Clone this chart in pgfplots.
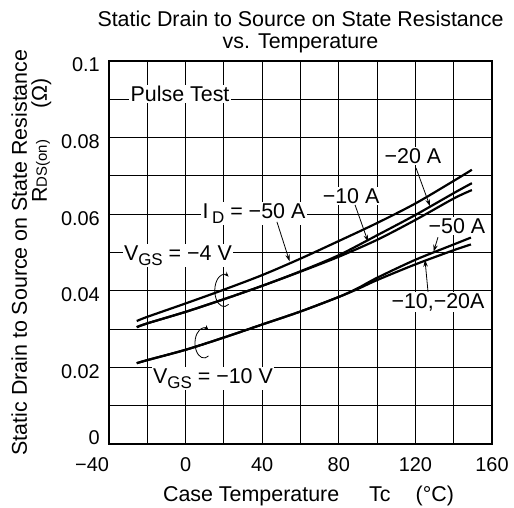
\documentclass[border=0pt]{standalone}
\usepackage{fontspec}
\setmainfont{Liberation Sans}
\usepackage{pgfplots}
\pgfplotsset{compat=1.18}
\usetikzlibrary{arrows.meta}
\newcommand{\sub}[1]{\raisebox{-5bp}{\fontsize{17}{20}\selectfont #1}}
\begin{document}
\begin{tikzpicture}[font=\fontsize{21.5}{24}\selectfont, >={Stealth[length=7bp,width=4.5bp]},
  curve/.style={black, line width=2.2bp, smooth, mark=none}]
\begin{axis}[name=ax, scale only axis, width=383bp, height=383bp,
 xmin=-40, xmax=160, ymin=0, ymax=0.1,
 xtick={-40,0,40,80,120,160}, xticklabels={\makebox[0pt][r]{−40},0,40,80,120,160},
 minor xtick={-20,20,60,100,140},
 ytick={0,0.02,0.04,0.06,0.08,0.1}, yticklabels={\raisebox{4bp}[0pt][0pt]{0},0.02,0.04,0.06,0.08,0.1},
 minor ytick={0.01,0.03,0.05,0.07,0.09},
 scaled y ticks=false, scaled x ticks=false,
 grid=both, major grid style={black, line width=0.9bp}, minor grid style={black, line width=0.9bp},
 major tick length=0pt, minor tick length=0pt,
 axis line style={black, line width=1.2bp},
 tick label style={font=\fontsize{20}{24}\selectfont},
 xticklabel style={anchor=base, inner sep=0pt, yshift=-27bp},
 yticklabel style={anchor=east, inner sep=0pt, xshift=-9bp, yshift=-4bp},
 clip=false,
]
% VGS = -4 V, ID = -50 A
\addplot[curve] coordinates {(-25.5,0.0321) (-20,0.0332) (0,0.0367) (20,0.0403) (40,0.0441) (60,0.0484) (80,0.0530) (100,0.0577) (120,0.0628) (140,0.0687) (149.5,0.0716)};
% VGS = -4 V, ID = -20 A
\addplot[curve] coordinates {(-25.5,0.0305) (-20,0.0315) (0,0.0345) (20,0.0378) (40,0.0413) (60,0.0451) (80,0.0493) (100,0.0545) (120,0.0598) (140,0.0655) (149.5,0.0681)};
% VGS = -4 V, ID = -10 A
\addplot[curve] coordinates {(-25.5,0.0305) (-20,0.0315) (0,0.0345) (20,0.0378) (40,0.0413) (60,0.0450) (80,0.0489) (100,0.0533) (120,0.0585) (140,0.0641) (149.5,0.0663)};
% VGS = -10 V, ID = -50 A
\addplot[curve] coordinates {(-25.5,0.0211) (-20,0.0219) (0,0.0246) (20,0.0278) (40,0.0312) (60,0.0346) (80,0.0384) (90,0.0407) (100,0.0434) (120,0.0481) (140,0.0521) (149,0.0539)};
% VGS = -10 V, ID = -10, -20 A
\addplot[curve] coordinates {(-25.5,0.0211) (-20,0.0219) (0,0.0246) (20,0.0278) (40,0.0312) (60,0.0346) (80,0.0384) (90,0.0405) (100,0.0428) (120,0.0469) (140,0.0506) (149,0.0521)};

\node[fill=white, inner sep=1.5bp] at (axis cs:-2.9,0.0914) {Pulse Test};
\node[fill=white, inner sep=1.5bp] at (axis cs:35.7,0.0603) {I\,\sub{D} = −50 A};
\node[fill=white, inner sep=1.5bp] at (axis cs:-4.0,0.0491) {V\sub{GS} = −4 V};
\node[fill=white, inner sep=1.5bp] at (axis cs:14.3,0.0172) {V\sub{GS} = −10 V};
\node[fill=white, inner sep=1.5bp] at (axis cs:118.7,0.0752) {−20 A};
\node[fill=white, inner sep=1.5bp] at (axis cs:86.4,0.0648) {−10 A};
\node[fill=white, inner sep=1.5bp] at (axis cs:141.7,0.0569) {−50 A};
\node[fill=white, inner sep=1.5bp] at (axis cs:131.8,0.0371) {−10,−20A};

\draw[->, line width=0.8bp] (axis cs:47.7,0.0580) -- (axis cs:54.3,0.0477);
\draw[->, line width=0.8bp] (axis cs:88.5,0.0624) -- (axis cs:95.3,0.0528);
\draw[->, line width=0.8bp] (axis cs:120.3,0.0721) -- (axis cs:127.6,0.0621);
\draw[->, line width=0.8bp] (axis cs:131.8,0.0540) -- (axis cs:129.5,0.0502);
\draw[->, line width=0.8bp] (axis cs:126.6,0.0397) -- (axis cs:125.0,0.0481);

\draw[-{Stealth[length=5bp,width=4bp]}, line width=0.8bp] (axis cs:22.45,0.03645) arc[start angle=-60, end angle=-300, x radius=9.2bp, y radius=16bp];
\draw[-{Stealth[length=5bp,width=4bp]}, line width=0.8bp] (axis cs:11.96,0.02298) arc[start angle=-60, end angle=-300, x radius=9bp, y radius=15bp];
\end{axis}
\node[anchor=base] at ([yshift=34bp]ax.north) {Static Drain to Source on State Resistance};
\node[anchor=base] at ([yshift=12bp]ax.north) {vs. Temperature};
\node[anchor=base] at ([xshift=8bp, yshift=-57bp]ax.south) {Case Temperature\hspace{30bp}Tc\hspace{25bp}(°C)};
\node[rotate=90, anchor=base] at ([xshift=-82bp]ax.west) {Static Drain to Source on State Resistance};
\node[rotate=90, anchor=base] at ([xshift=-62bp, yshift=112bp]ax.west) {R{\fontsize{15}{16}\selectfont DS(on)}\hspace{31bp}(Ω)};
\pgfresetboundingbox
\path ([xshift=-109bp,yshift=-64bp]ax.south west) rectangle ([xshift=22bp,yshift=61bp]ax.north east);
\end{tikzpicture}
\end{document}
